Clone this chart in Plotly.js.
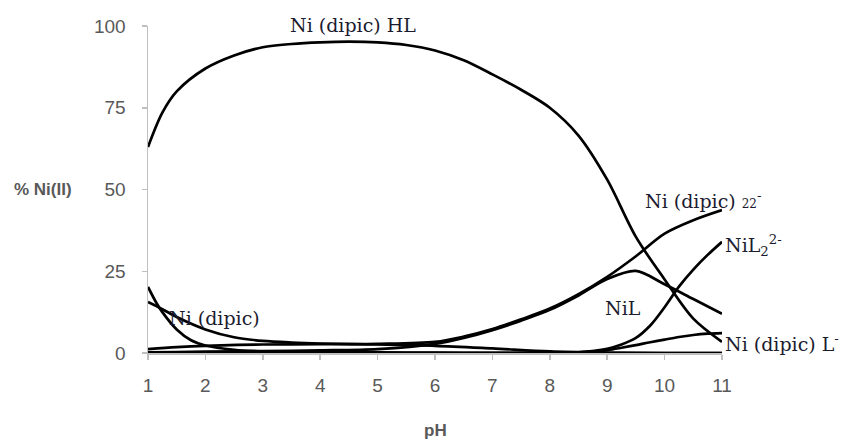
<!DOCTYPE html>
<html>
<head>
<meta charset="utf-8">
<script src="https://cdn.plot.ly/plotly-3.0.1.min.js"></script>
<style>html,body{margin:0;padding:0;background:#fff;}#chart{width:841px;height:440px;}</style>
</head>
<body>
<div id="chart"></div>
<script>
// pH grid and species distribution (% Ni(II))
const phHL = [1, 1.25, 1.5, 2, 2.5, 3, 3.5, 4, 4.5, 5, 5.5, 6, 6.5, 7, 7.5, 8, 8.5, 9, 9.5, 10, 10.5, 11];
const niDipicHL = [63, 73.5, 80, 87, 91, 93.5, 94.5, 95, 95.2, 95, 94.2, 92.5, 89.5, 85.2, 80.5, 75, 66.5, 53, 35.5, 22.5, 10.5, 3.4];

const phA = [1, 1.15, 1.25, 1.5, 1.75, 2, 2.5, 3, 4, 5, 6, 7, 8, 9, 10, 11];
const niFree = [20.2, 15.2, 12.5, 7.2, 3.9, 2.3, 1.0, 0.5, 0.3, 0.2, 0.1, 0.05, 0, 0, 0, 0];

const phB = [1, 1.25, 1.5, 2, 2.5, 3, 3.5, 4, 5, 6, 7, 8, 9, 10, 11];
const niDipic = [15.6, 13.4, 11.0, 7.2, 4.8, 3.7, 3.2, 2.9, 2.6, 2.2, 1.4, 0.5, 0.15, 0, 0];

const phC = [1, 1.5, 2, 3, 4, 5, 6, 6.5, 7, 7.5, 8, 8.5, 9, 9.5, 10, 10.5, 11];
const niDipic2 = [1.2, 1.8, 2.2, 2.6, 2.7, 2.8, 3.4, 5.0, 7.3, 10.3, 13.6, 18.0, 23.3, 29.6, 36.5, 40.6, 43.7];
const niL = [0.2, 0.3, 0.4, 0.6, 0.8, 1.2, 2.8, 4.6, 7.0, 9.9, 13.2, 17.6, 22.6, 25.1, 21.0, 16.5, 12.0];

const phD = [1, 3, 5, 7, 8, 8.5, 9, 9.25, 9.5, 9.75, 10, 10.25, 10.5, 10.75, 11];
const niL2 = [0, 0, 0, 0, 0, 0.2, 1.3, 2.6, 4.6, 8.4, 14.0, 20.3, 25.5, 30.0, 34.0];
const niDipicL = [0, 0, 0, 0, 0, 0.2, 0.9, 1.6, 2.4, 3.3, 4.1, 4.9, 5.5, 5.9, 6.1];

const xTicks = [1, 2, 3, 4, 5, 6, 7, 8, 9, 10, 11];
const yTicks = [0, 25, 50, 75, 100];

const labelText = [
  'Ni (dipic) HL',
  'Ni (dipic) <span style="font-size:12px">22</span><sup>-</sup>',
  'NiL<sub>2</sub><sup>2-</sup>',
  'NiL',
  'Ni (dipic) L<sup>-</sup>',
  'Ni (dipic)'
];
const yTitle = '<b>% Ni(II)</b>';
const xTitle = '<b>pH</b>';

const lineStyle = {color: '#000', width: 2.7, shape: 'spline', smoothing: 0.9};
function tr(x, y) {
  return {x: x, y: y, type: 'scatter', mode: 'lines', line: lineStyle, cliponaxis: false, hoverinfo: 'skip'};
}
const data = [
  tr(phHL, niDipicHL),
  tr(phA, niFree),
  tr(phB, niDipic),
  tr(phC, niDipic2),
  tr(phC, niL),
  tr(phD, niL2),
  tr(phD, niDipicL)
];

// label placement in paper coordinates
const labelPos = [
  {x: 0.3575, y: 1.003, xa: 'center'},
  {x: 0.862, y: 0.467, xa: 'left'},
  {x: 1.001, y: 0.33, xa: 'left'},
  {x: 0.792, y: 0.137, xa: 'left'},
  {x: 1.001, y: 0.030, xa: 'left'},
  {x: 0.0326, y: 0.106, xa: 'left'}
];
const labelFont = {family: 'DejaVu Serif', size: 19, color: '#1c1c30'};
const annotations = labelText.map((t, i) => ({
  x: labelPos[i].x, y: labelPos[i].y, xref: 'paper', yref: 'paper', text: t, showarrow: false,
  xanchor: labelPos[i].xa, yanchor: 'middle', font: labelFont
}));
annotations.push({x: -0.237, y: 0.5, xref: 'paper', yref: 'paper', text: yTitle, showarrow: false,
  xanchor: 'left', yanchor: 'middle', font: {family: 'Liberation Sans', size: 17, color: '#595959'}});
annotations.push({x: 0.5, y: -0.2366, xref: 'paper', yref: 'paper', text: xTitle, showarrow: false,
  xanchor: 'center', yanchor: 'middle', font: {family: 'Liberation Sans', size: 17, color: '#595959'}});

const layout = {
  width: 841, height: 440,
  margin: {l: 148, r: 119, t: 26, b: 87},
  paper_bgcolor: '#fff', plot_bgcolor: '#fff',
  showlegend: false,
  xaxis: {
    range: [1, 11], tickvals: xTicks, ticktext: xTicks.map(String),
    showgrid: false, zeroline: false, showline: true, linecolor: '#bfbfbf', linewidth: 1.5,
    ticks: 'outside', ticklen: 5, tickcolor: '#bfbfbf', tickwidth: 1.5,
    tickfont: {family: 'Liberation Sans', size: 19, color: '#595959'}, ticklabelstandoff: 10
  },
  yaxis: {
    range: [0, 100], tickvals: yTicks, ticktext: yTicks.map(String),
    showgrid: false, zeroline: false, showline: true, linecolor: '#bfbfbf', linewidth: 1.5,
    ticks: 'outside', ticklen: 5, tickcolor: '#bfbfbf', tickwidth: 1.5,
    tickfont: {family: 'Liberation Sans', size: 19, color: '#595959'}, ticklabelstandoff: 12
  },
  annotations: annotations
};
Plotly.newPlot('chart', data, layout, {staticPlot: true, displayModeBar: false});
</script>
</body>
</html>
